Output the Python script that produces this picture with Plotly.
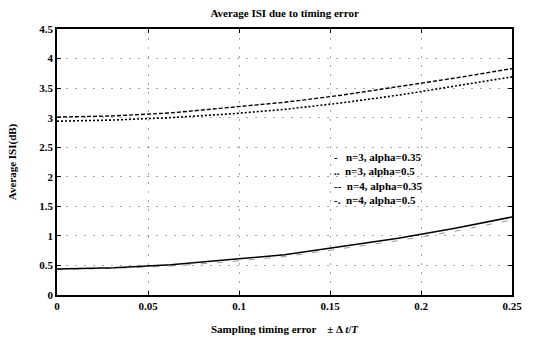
import plotly.graph_objects as go

x_err = [0, 0.03125, 0.0625, 0.09375, 0.125, 0.15625, 0.1875, 0.21875, 0.25]
isi_n3_a035 = [3.01, 3.03, 3.08, 3.17, 3.26, 3.38, 3.52, 3.67, 3.83]
isi_n3_a05 = [2.94, 2.96, 3.00, 3.06, 3.14, 3.25, 3.38, 3.53, 3.69]
isi_n4_a035 = [0.44, 0.46, 0.51, 0.59, 0.68, 0.82, 0.96, 1.13, 1.32]
isi_n4_a05 = [0.43, 0.45, 0.49, 0.56, 0.65, 0.78, 0.92, 1.08, 1.27]
legend_labels = ["-   n=3, alpha=0.35", "..  n=3, alpha=0.5", "--  n=4, alpha=0.35", "-.  n=4, alpha=0.5"]
x_ticks = [0, 0.05, 0.1, 0.15, 0.2, 0.25]
y_ticks = [0, 0.5, 1, 1.5, 2, 2.5, 3, 3.5, 4, 4.5]

series = [
    ("n=3, alpha=0.35", isi_n3_a035, "4px,2px", 1.4, "black"),
    ("n=3, alpha=0.5", isi_n3_a05, "2px,2px", 1.6, "black"),
    ("n=4, alpha=0.35", isi_n4_a035, "solid", 1.5, "black"),
    ("n=4, alpha=0.5", isi_n4_a05, "6px,10px", 1.0, "rgba(0,0,0,0.4)"),
]

fig = go.Figure()
for name, ys, dash, w, col in series:
    fig.add_trace(go.Scatter(x=x_err, y=ys, mode="lines", name=name,
                             line=dict(color=col, width=w, dash=dash)))

font = dict(family="Liberation Serif, Times New Roman, serif", color="black")
axis_common = dict(
    showline=True, linecolor="black", linewidth=1.5, mirror="ticks",
    ticks="inside", ticklen=4, tickcolor="black",
    showgrid=True, gridcolor="rgba(0,0,0,0.35)", griddash="2px,7px", gridwidth=1,
    zeroline=False, tickfont=dict(size=11, **font), automargin=False,
)
fig.update_layout(
    width=537, height=341,
    margin=dict(l=57, r=25, t=29, b=46),
    paper_bgcolor="white", plot_bgcolor="white",
    title=dict(text="<b>Average ISI due to timing error</b>", x=0.53, xanchor="center",
               y=0.962, yanchor="middle", font=dict(size=11, **font)),
    xaxis=dict(range=[0, 0.25], tickvals=x_ticks,
               ticktext=["<b>%g</b>" % v for v in x_ticks],
               title=dict(text="<b>Sampling timing error    ± Δ <i>t</i>/<i>T</i></b>",
                          font=dict(size=11, **font), standoff=14),
               **axis_common),
    yaxis=dict(range=[0, 4.5], tickvals=y_ticks,
               ticktext=["<b>%g</b>" % v for v in y_ticks],
               title=dict(text="<b>Average ISI(dB)</b>", font=dict(size=11, **font), standoff=20),
               **axis_common),
    showlegend=False,
)
fig.add_annotation(
    text="<br>".join("<b>%s</b>" % s for s in legend_labels),
    xref="paper", yref="paper", x=0.605, y=0.548, xanchor="left", yanchor="top",
    align="left", showarrow=False, font=dict(size=11, **font),
)
fig.write_html("out.html")
